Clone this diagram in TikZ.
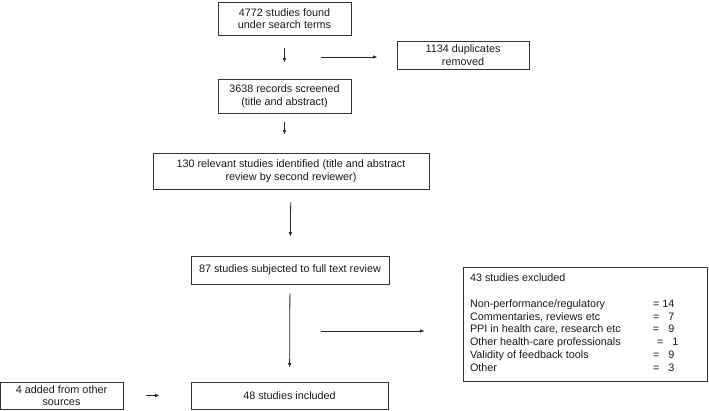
\documentclass[tikz,border=0pt]{standalone}
\usepackage{fontspec}
\setmainfont{Liberation Sans}
\usetikzlibrary{arrows.meta}

\begin{document}
\begin{tikzpicture}[x=1bp, y=-1bp,
                box/.style = {draw=black!80, line width=0.8bp, align=center, inner sep=2bp,
                              text=black!90, font=\fontsize{10.8bp}{12.4bp}\selectfont},
                arr/.style = {draw=black!85, line width=0.8bp, -{Latex[length=4.5bp,width=3.5bp]}}]
    \useasboundingbox (0,0) rectangle (709,410);
    \node[box, minimum width=133bp, minimum height=33bp] (found) at (284.5,18.5) {4772 studies found\\under search terms};
    \node[box, minimum width=132bp, minimum height=28bp] (dup) at (463,55) {1134 duplicates\\removed};
    \node[box, minimum width=133bp, minimum height=34bp] (screened) at (284.5,96) {3638 records screened\\(title and abstract)};
    \node[box, minimum width=276bp, minimum height=36bp] (relevant) at (291,171) {130 relevant studies identified (title and abstract\\review by second reviewer)};
    \node[box, minimum width=198bp, minimum height=28bp] (fulltext) at (290,270) {87 studies subjected to full text review};
    \node[box, minimum width=244bp, minimum height=114bp, inner xsep=7bp, align=left,
          font=\fontsize{10.8bp}{12.8bp}\selectfont] (excl) at (585,324) {%
        \begin{tabular}{@{}p{183bp}@{}p{47bp}@{}}
            43 studies excluded & \\
            & \\
            Non-performance/regulatory & = 14\\
            Commentaries, reviews etc & = \phantom{1}7\\
            PPI in health care, research etc & = \phantom{1}9\\
            Other health-care professionals & \hspace{4bp}= \phantom{1}1\\
            Validity of feedback tools & = \phantom{1}9\\
            Other & = \phantom{1}3
        \end{tabular}};
    \node[box, minimum width=197bp, minimum height=27bp] (incl) at (289.5,395.5) {48 studies included};
    \node[box, minimum width=123bp, minimum height=27bp] (added) at (61.5,395.5) {4 added from other\\sources};
    \coordinate (d) at (321,57);
    \coordinate (e) at (321,331);
    \draw[arr, shorten <=13bp, shorten >=16bp] (found) -- (screened);
    \draw[arr, shorten >=19bp] (d) -- (dup.west |- d);
    \draw[arr, shorten <=9bp, shorten >=18bp] (screened.south) -- (screened.south |- relevant.north);
    \draw[arr, shorten <=13bp, shorten >=19bp] (relevant) -- (fulltext);
    \draw[arr, shorten <=9bp, shorten >=14bp] (fulltext) -- (incl);
    \draw[arr, shorten >=38bp] (e) -- (excl.west |- e);
    \draw[arr, shorten <=23bp, shorten >=31bp] (added) -- (incl);
\end{tikzpicture}
\end{document}
